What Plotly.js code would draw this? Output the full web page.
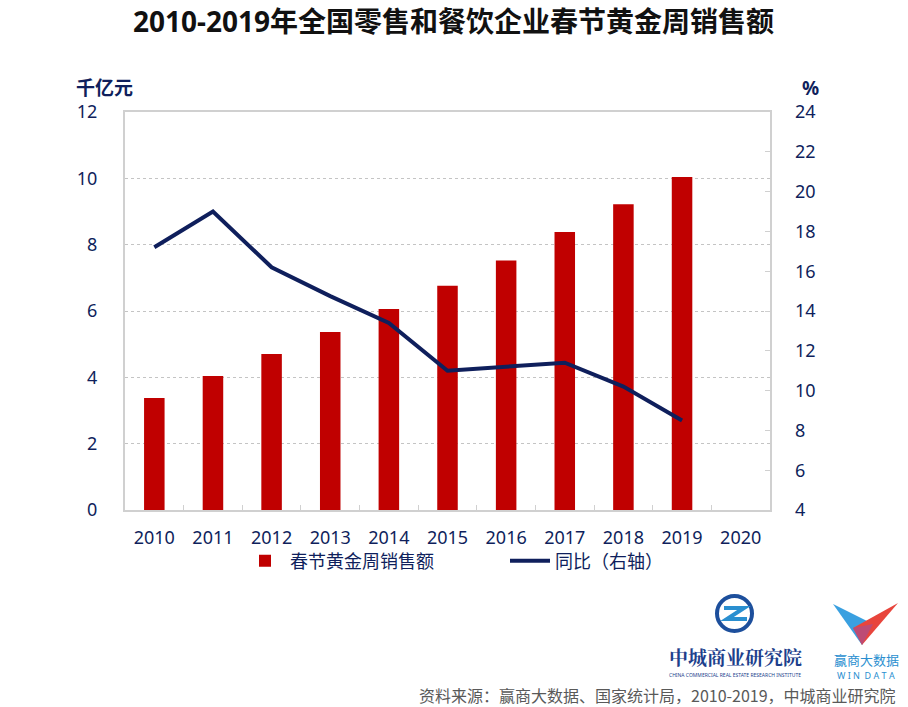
<!DOCTYPE html>
<html>
<head>
<meta charset="utf-8">
<script src="https://cdn.plot.ly/plotly-3.0.1.min.js"></script>
<style>html,body{margin:0;padding:0;background:#fff}#chart{width:908px;height:707px}</style>
</head>
<body>
<div id="chart"></div>
<script>
const years = ['2010','2011','2012','2013','2014','2015','2016','2017','2018','2019','2020'];
const sales = [3.38, 4.04, 4.70, 5.37, 6.06, 6.76, 7.52, 8.38, 9.22, 10.04, null];
const yoy = [17.2, 19.0, 16.2, 14.75, 13.4, 11.0, 11.2, 11.4, 10.2, 8.5, null];
const salesName = '春节黄金周销售额';
const yoyName = '同比（右轴）';

const W = 908, H = 707;
const M = {l:125, r:138, t:112, b:197};
const PW = W - M.l - M.r, PH = H - M.t - M.b;
const px = x => (x - M.l) / PW;
const py = y => (H - M.b - y) / PH;

const navy = '#0f1f5c';
const font = 'Noto Sans, "Noto Sans CJK SC", sans-serif';

const traces = [
  {type:'bar', x:years, y:sales, name:salesName, marker:{color:'#c00000'}, width:0.35, yaxis:'y'},
  {type:'scatter', mode:'lines', x:years, y:yoy, name:yoyName, line:{color:navy, width:4}, yaxis:'y2'}
];

const shapes = [
  {type:'circle', xref:'paper', yref:'paper', x0:px(717), x1:px(752), y0:py(631), y1:py(596),
   line:{color:'#1d4f9c', width:4}},
  {type:'path', xref:'paper', yref:'paper', line:{color:'#2a8fd0', width:4},
   path:`M ${px(724)} ${py(608)} L ${px(744)} ${py(608)} L ${px(727)} ${py(619)} L ${px(747)} ${py(619)}`},
  {type:'path', xref:'paper', yref:'paper', line:{width:0}, fillcolor:'#3aa0e0',
   path:`M ${px(833)} ${py(604)} L ${px(873)} ${py(624)} L ${px(862)} ${py(645)} Z`},
  {type:'path', xref:'paper', yref:'paper', line:{width:0}, fillcolor:'#e8453c',
   path:`M ${px(898)} ${py(603)} L ${px(862)} ${py(645)} L ${px(853)} ${py(628)} Z`},
  {type:'path', xref:'paper', yref:'paper', line:{width:0}, fillcolor:'#a0509a', opacity:0.6,
   path:`M ${px(853)} ${py(628)} L ${px(873)} ${py(624)} L ${px(862)} ${py(645)} Z`}
];

const annotations = [
  {xref:'paper', yref:'paper', x:px(454), y:py(21), text:'<b>2010-2019年全国零售和餐饮企业春节黄金周销售额</b>',
   showarrow:false, font:{family:font, size:28, color:'#111'}, xanchor:'center', yanchor:'middle'},
  {xref:'paper', yref:'paper', x:px(104), y:py(88), text:'<b>千亿元</b>', showarrow:false,
   font:{family:font, size:19, color:navy}, xanchor:'center', yanchor:'middle'},
  {xref:'paper', yref:'paper', x:px(810), y:py(88), text:'<b>%</b>', showarrow:false,
   font:{family:font, size:19, color:navy}, xanchor:'center', yanchor:'middle'},
  {xref:'paper', yref:'paper', x:px(735), y:py(656), text:'<b>中城商业研究院</b>', showarrow:false,
   font:{family:'"Noto Serif CJK SC","Noto Sans CJK SC",serif', size:19, color:'#1d3f8c'}, xanchor:'center', yanchor:'middle'},
  {xref:'paper', yref:'paper', x:px(735), y:py(675), text:'CHINA COMMERCIAL REAL ESTATE RESEARCH INSTITUTE', showarrow:false,
   font:{family:font, size:5, color:'#1d3f8c'}, xanchor:'center', yanchor:'middle'},
  {xref:'paper', yref:'paper', x:px(866), y:py(659), text:'赢商大数据', showarrow:false,
   font:{family:'"Noto Sans CJK SC",sans-serif', size:13, color:'#2a8fd0'}, xanchor:'center', yanchor:'middle'},
  {xref:'paper', yref:'paper', x:px(866), y:py(675), text:'W I N  D A T A', showarrow:false,
   font:{family:font, size:9, color:'#2a8fd0'}, xanchor:'center', yanchor:'middle'},
  {xref:'paper', yref:'paper', x:px(898), y:py(695), text:'资料来源：赢商大数据、国家统计局，2010-2019，中城商业研究院', showarrow:false,
   font:{family:'"Noto Sans CJK SC",sans-serif', size:16, color:'#595959'}, xanchor:'right', yanchor:'middle'}
];

const layout = {
  width:W, height:H, margin:M,
  paper_bgcolor:'#fff', plot_bgcolor:'#fff',
  font:{family:font, size:18, color:navy},
  showlegend:true,
  legend:{orientation:'h', x:px(240), xanchor:'left', y:py(561), yanchor:'middle',
          font:{family:'"Noto Sans CJK SC",sans-serif', size:18, color:navy}, entrywidth:210, itemwidth:40,
          bgcolor:'rgba(0,0,0,0)'},
  xaxis:{type:'category', range:[-0.5,10.5], showline:true, linecolor:'#d0d0d0', linewidth:2, mirror:true,
         ticks:'inside', tickson:'boundaries', ticklen:5, tickcolor:'#d0d0d0', showgrid:false,
         tickfont:{size:18, color:navy}, ticklabelstandoff:10, fixedrange:true},
  yaxis:{range:[0,12], dtick:2, showline:true, linecolor:'#d0d0d0', linewidth:2, mirror:true,
         showgrid:true, gridcolor:'#c4c4c4', griddash:'dot', gridwidth:1, zeroline:false,
         ticks:'', tickfont:{size:18, color:navy}, ticklabelstandoff:22},
  yaxis2:{range:[4,24], dtick:2, overlaying:'y', side:'right', showgrid:false, zeroline:false,
          ticks:'inside', ticklen:5, tickcolor:'#d0d0d0', showline:false,
          tickfont:{size:18, color:navy}, ticklabelstandoff:24},
  shapes:shapes,
  annotations:annotations
};

Plotly.newPlot('chart', traces, layout, {displayModeBar:false, staticPlot:true});
</script>
</body>
</html>
